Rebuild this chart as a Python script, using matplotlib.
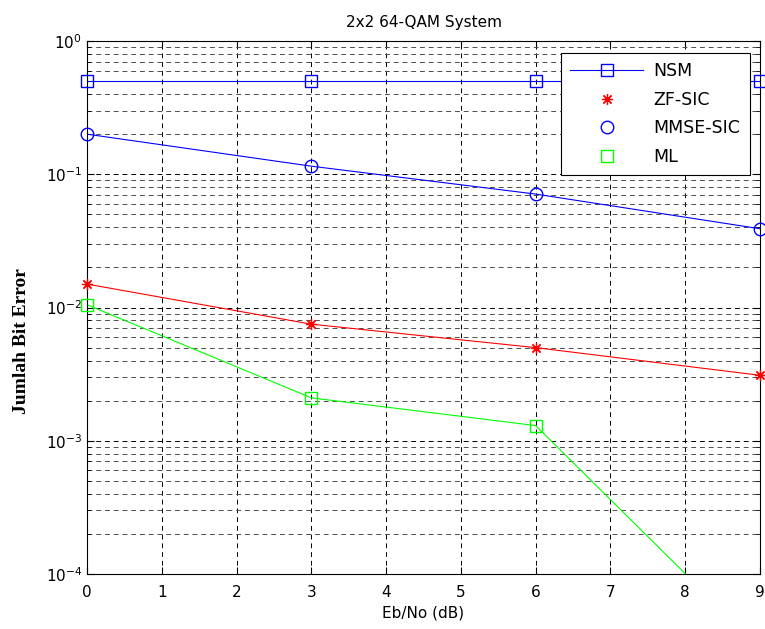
import numpy as np
import matplotlib.pyplot as plt
from matplotlib.lines import Line2D

# Eb/No points
ebno = [0, 3, 6, 9]

# bit error per detector
nsm = [0.5, 0.5, 0.5, 0.5]
zf_sic = [0.015, 0.0075, 0.005, 0.0031]
mmse_sic = [0.2, 0.115, 0.071, 0.039]
ml = [0.0105, 0.0021, 0.0013, 2.8e-5]

fig = plt.figure(figsize=(7.65, 6.29), dpi=100)
ax = fig.add_axes([0.1137, 0.0874, 0.8798, 0.8474])

ymin = 1e-4
star = (8, 2, 0)  # matlab-like asterisk
green = '#00ff00'

def draw(y, color, marker, ms, mew=1.0):
    ax.plot(ebno, y, '-', color=color, lw=0.8)
    ym = np.where(np.array(y) >= ymin, y, np.nan)
    ax.plot(ebno, ym, linestyle='none', marker=marker, color=color,
            mfc='none', ms=ms, mew=mew, clip_on=False, zorder=5)

draw(nsm, 'blue', 's', 9)
draw(zf_sic, 'red', star, 8, 0.9)
draw(mmse_sic, 'blue', 'o', 9)
draw(ml, green, 's', 9)

ax.set_yscale('log')
ax.set_xlim(0, 9)
ax.set_ylim(ymin, 1)
ax.set_xticks(range(10))

ax.grid(True, which='major', color='black', linestyle=(0, (5, 4)), lw=0.7)
ax.grid(True, which='minor', color='0.3', linestyle=(0, (5, 4)), lw=0.7)
ax.tick_params(which='both', direction='in', top=True, right=True, labelsize=11)
ax.tick_params(which='major', length=5)
ax.tick_params(axis='x', pad=8)
ax.tick_params(which='minor', length=3)

ax.set_title('2x2 64-QAM System', fontsize=11, pad=10)
ax.set_xlabel('Eb/No (dB)', fontsize=11, labelpad=4)
ax.set_ylabel('Jumlah Bit Error', fontsize=14, family='Liberation Serif',
              fontweight='bold')
ax.yaxis.set_label_coords(-0.085, 0.437)

handles = [
    Line2D([], [], color='blue', marker='s', mfc='none', ms=9, lw=0.8),
    Line2D([], [], color='red', marker=star, ls='none', ms=8, mew=0.9),
    Line2D([], [], color='blue', marker='o', mfc='none', ls='none', ms=9),
    Line2D([], [], color=green, marker='s', mfc='none', ls='none', ms=9),
]
leg = ax.legend(handles, ['NSM', 'ZF-SIC', 'MMSE-SIC', 'ML'], loc='upper right',
                bbox_to_anchor=(0.998, 0.994), fancybox=False, framealpha=1,
                edgecolor='black', fontsize=12.5, handlelength=4.2,
                labelspacing=0.6, borderpad=0.55, handletextpad=0.6)
leg.get_frame().set_linewidth(0.8)

fig.savefig('out.png', dpi=100)
